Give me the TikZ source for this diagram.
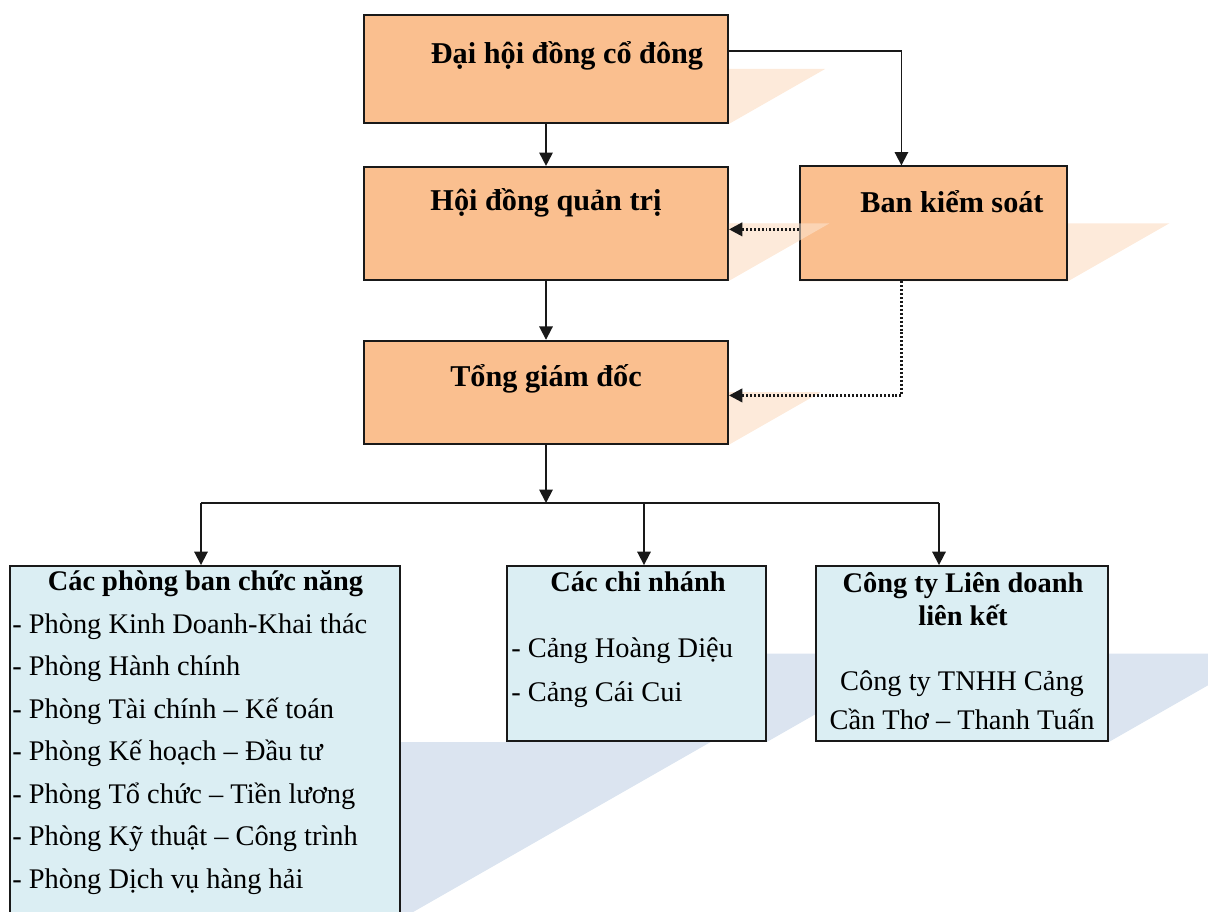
\documentclass[tikz,border=0pt]{standalone}
\usepackage{fontspec}
\setmainfont{Liberation Serif}
\usepackage{xcolor}
\usepackage{tikz}
\usetikzlibrary{arrows.meta, positioning, calc, backgrounds}

\definecolor{boxorange}{RGB}{250,191,143}
\definecolor{shadoworange}{RGB}{253,234,218}
\definecolor{boxblue}{RGB}{219,238,243}
\definecolor{shadowblue}{RGB}{219,228,240}
\definecolor{linegray}{RGB}{25,25,25}

% slanted shadow behind a box
\newcommand{\boxshadow}[2]{%
  \fill[#2] let \p1=(#1.north east), \p2=(#1.south west) in
    (\x2,\y2) -- (\x1,\y2) -- (\x1+0.875*\y1-0.875*\y2, 0.5*\y1+0.5*\y2)
    -- (\x2+0.875*\y1-0.875*\y2, 0.5*\y1+0.5*\y2) -- cycle;}

\tikzset{
  orangebox/.style={draw=linegray, line width=1.3pt, fill=boxorange, rectangle, inner sep=0pt},
  bluebox/.style={draw=linegray, line width=1.3pt, fill=boxblue, rectangle, inner sep=0pt},
  bigtitle/.style={font=\fontsize{21.5}{26}\selectfont\bfseries, inner sep=0pt, anchor=base},
  subtitle/.style={font=\fontsize{20.2}{24}\selectfont\bfseries, inner sep=0pt, anchor=base},
  plaintext/.style={font=\fontsize{20.2}{24}\selectfont, inner sep=0pt, anchor=base},
  itemtext/.style={font=\fontsize{20.2}{24}\selectfont, inner sep=0pt, anchor=base west},
  wire/.style={draw=linegray, line width=1.3pt},
  link/.style={wire, -{Triangle[length=9.5pt, width=9.5pt]}},
  dotlink/.style={link, line width=2pt, dash pattern=on 1.4pt off 1.4pt}
}

\begin{document}
\begin{tikzpicture}[x=0.025cm, y=-0.025cm]
    \useasboundingbox (0,0) rectangle (1208,912);

    % upper boxes
    \node [orangebox, minimum width=9.1cm, minimum height=2.7cm] (dhdcd) at (546,69) {};
    \node [orangebox, minimum width=9.1cm, minimum height=2.825cm, below=1.05cm of dhdcd] (hdqt) {};
    \node [orangebox, minimum width=6.675cm, minimum height=2.85cm, right=1.75cm of hdqt] (ban) {};
    \node [orangebox, minimum width=9.1cm, minimum height=2.575cm, below=1.475cm of hdqt] (tgd) {};

    % lower boxes
    \node [bluebox, minimum width=9.75cm, minimum height=8.8cm] (phongban) at (205,742) {};
    \node [bluebox, minimum width=6.475cm, minimum height=4.375cm] (chinhanh) at (636.5,653.5) {};
    \node [bluebox, minimum width=7.3cm, minimum height=4.375cm] (congty) at (962,653.5) {};

    \begin{scope}[on background layer]
        \boxshadow{dhdcd}{shadoworange}
        \boxshadow{hdqt}{shadoworange}
        \boxshadow{ban}{shadoworange}
        \boxshadow{tgd}{shadoworange}
        \boxshadow{phongban}{shadowblue}
        \boxshadow{chinhanh}{shadowblue}
        \boxshadow{congty}{shadowblue}
    \end{scope}
    % tip of the hdqt shadow shows through over ban
    \fill [shadoworange, opacity=0.5] let \p1=(hdqt.north east), \p2=(hdqt.south east) in
        (\x1,0.5*\y1+0.5*\y2) -- (\x1+0.875*\y1-0.875*\y2,0.5*\y1+0.5*\y2) -- (\x1,\y2) -- cycle;

    % texts
    \node [bigtitle] (dhdcdtext) at (567,64) {Đại hội đồng cổ đông};
    \node [bigtitle] (hdqttext) at (546,211) {Hội đồng quản trị};
    \node [bigtitle] (bantext) at (952,213) {Ban kiểm soát};
    \node [bigtitle] (tgdtext) at (546,386) {Tổng giám đốc};

    \node [subtitle] (phongbantext) at (205.5,590) {Các phòng ban chức năng};
    \foreach \t [count=\i] in {Phòng Kinh Doanh-Khai thác, Phòng Hành chính,
        Phòng Tài chính – Kế toán, Phòng Kế hoạch – Đầu tư, Phòng Tổ chức – Tiền lương,
        Phòng Kỹ thuật – Công trình, Phòng Dịch vụ hàng hải}
        \node [itemtext] (phong\i) at (12,{633+42.5*(\i-1)}) {- \t};

    \node [subtitle] (chinhanhtext) at (638,591) {Các chi nhánh};
    \node [itemtext] (cang1) at (511,657) {- Cảng Hoàng Diệu};
    \node [itemtext] (cang2) at (511,701) {- Cảng Cái Cui};

    \node [subtitle] (congtytext1) at (963,592) {Công ty Liên doanh};
    \node [subtitle] (congtytext2) at (963,625) {liên kết};
    \node [plaintext] (tnhh1) at (962,690) {Công ty TNHH Cảng};
    \node [plaintext] (tnhh2) at (962,729) {Cần Thơ – Thanh Tuấn};

    % connectors
    \draw [link] (dhdcd) -- (hdqt);
    \draw [link] ([yshift=0.45cm]dhdcd.east) -| ([xshift=-0.8cm]ban.north);
    \draw [link] (hdqt) -- (tgd);
    \draw [dotlink] ([yshift=-0.15cm]ban.west) -- ([yshift=-0.15cm]hdqt.east);
    \draw [dotlink] ([xshift=-0.8cm]ban.south) |- ([yshift=-0.08cm]tgd.east);

    \coordinate (bus) at (546,503);
    \coordinate (busL) at (201,503);
    \coordinate (busM) at (644,503);
    \coordinate (busR) at (939,503);
    \draw [link] (tgd) -- (bus);
    \draw [wire] (busL) -- (busR);
    \draw [link] (busL) -- (busL |- phongban.north);
    \draw [link] (busM) -- (busM |- chinhanh.north);
    \draw [link] (busR) -- (busR |- congty.north);
\end{tikzpicture}
\end{document}
